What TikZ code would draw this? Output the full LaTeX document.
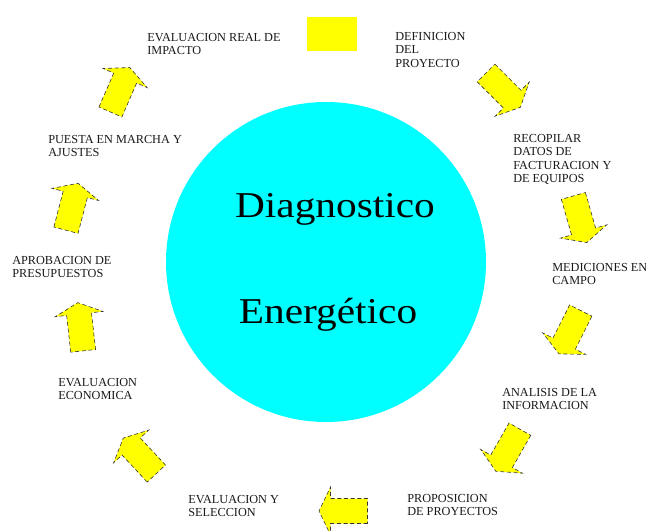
\documentclass[tikz,border=0pt]{standalone}
\usepackage{fontspec}
\setmainfont{Liberation Serif}
\definecolor{turquesa}{RGB}{0,255,255}
\definecolor{amarillo}{RGB}{255,255,0}
\begin{document}
\begin{tikzpicture}[x=0.75pt,y=-0.75pt,
	etiqueta/.style={anchor=north west, inner sep=0pt, align=left, text=black!90, font=\fontsize{9.2}{10.1}\selectfont},
	titulo/.style={anchor=base, inner sep=0pt, font=\fontsize{31}{36}\selectfont},
	flecha/.pic={\draw[fill=amarillo, draw=black!80, line width=0.45pt, densely dashed] (-24,-12.5) -- (13,-12.5) -- (13,-24) -- (24.5,0) -- (13,24) -- (13,12.5) -- (-24,12.5) -- cycle;}]
		\useasboundingbox (0,0) rectangle (646,531);
		% circulo central
		\node[circle, fill=turquesa, minimum size=240pt, inner sep=0pt] (diag) at (326,262) {};
		\node[titulo] (t1) at (335,217) {\scalebox{1}[0.88]{Diagnostico}};
		\node[titulo] (t2) at (328,323) {\scalebox{1}[0.88]{Energético}};
		\node[fill=amarillo, minimum width=37.5pt, minimum height=25.5pt, inner sep=0pt] (inicio) at (332,34) {};
		% etapas
		\node[etiqueta] (e1) at (395,32) {DEFINICION\\DEL\\PROYECTO};
		\node[etiqueta] (e2) at (513,134) {RECOPILAR\\DATOS DE\\FACTURACION Y\\DE EQUIPOS};
		\node[etiqueta] (e3) at (552,263) {MEDICIONES EN\\CAMPO};
		\node[etiqueta] (e4) at (502,388) {ANALISIS DE LA\\INFORMACION};
		\node[etiqueta] (e5) at (407,494) {PROPOSICION\\DE PROYECTOS};
		\node[etiqueta] (e6) at (188,495) {EVALUACION Y\\SELECCION};
		\node[etiqueta] (e7) at (58,378) {EVALUACION\\ECONOMICA};
		\node[etiqueta] (e8) at (12,256) {APROBACION DE\\PRESUPUESTOS};
		\node[etiqueta] (e9) at (48,135) {PUESTA EN MARCHA Y\\AJUSTES};
		\node[etiqueta] (e10) at (147,33) {EVALUACION REAL DE\\IMPACTO};
		% flechas
		\pic[rotate=-45] (f1) at (503,90) {flecha};
		\pic[rotate=-74] (f2) at (580,219) {flecha};
		\pic[rotate=-116.6] (f3) at (570,332) {flecha};
		\pic[rotate=-119.7] (f4) at (508,450) {flecha};
		\pic[rotate=180] (f5) at (343.5,511) {flecha};
		\pic[rotate=133] (f6) at (140,456) {flecha};
		\pic[rotate=96.3] (f7) at (80.5,327) {flecha};
		\pic[rotate=75.4] (f8) at (72,207) {flecha};
		\pic[rotate=66.5] (f9) at (120,90) {flecha};
	\end{tikzpicture}
\end{document}
